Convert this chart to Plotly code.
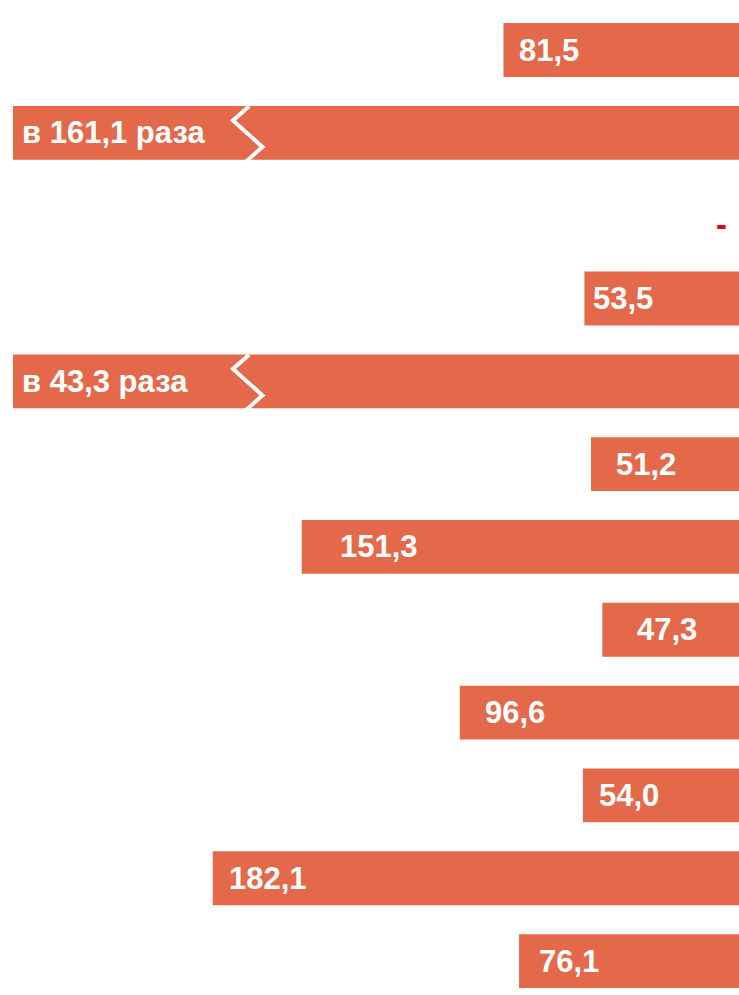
import plotly.graph_objects as go

# ---- data ----
rows = ["r1", "r2", "r3", "r4", "r5", "r6", "r7", "r8", "r9", "r10", "r11", "r12"]
values = [81.5, None, None, 53.5, None, 51.2, 151.3, 47.3, 96.6, 54.0, 182.1, 76.1]
times = [None, 161.1, None, None, 43.3, None, None, None, None, None, None, None]
missing = [False, False, True, False, False, False, False, False, False, False, False, False]

# ---- style ----
BAR = "#E4694A"
DASH_RED = "#E2001A"
FONT = "Liberation Sans, Arial, sans-serif"
CAP = 251.2          # length drawn for "broken" (times) bars
X_MAX = 255.7        # axis extent (reversed)
label_pad = [16, 9, 0, 9, 9, 25, 38, 35, 25, 16, 16, 20]

def fmt(v):
    return f"{v:.1f}".replace(".", ",")

bar_x, bar_y = [], []
for r, v, t, m in zip(rows, values, times, missing):
    if m:
        continue
    bar_y.append(r)
    bar_x.append(v if v is not None else CAP)

fig = go.Figure()
fig.add_trace(go.Bar(
    x=bar_x, y=bar_y, orientation="h",
    marker=dict(color=BAR, line=dict(width=0)),
    width=0.65, hoverinfo="skip",
))

annotations = []
shapes = []
for i, (r, v, t, m) in enumerate(zip(rows, values, times, missing)):
    if m:
        annotations.append(dict(
            x=0, y=r, xref="x", yref="y", text="<b>-</b>", showarrow=False,
            xanchor="right", xshift=-10, yshift=-9,
            font=dict(family=FONT, size=33, color=DASH_RED)))
        continue
    if v is not None:
        txt, xpos = fmt(v), v
    else:
        txt, xpos = f"в {fmt(t)} раза", CAP
        # break mark
        xs = [169.5, 175.1, 164.9, 171.0]
        dys = [-0.32, -0.15, 0.17, 0.36]
        path = "M " + " L ".join(f"{x},{i + dy}" for x, dy in zip(xs, dys))
        shapes.append(dict(type="path", path=path, xref="x", yref="y",
                           line=dict(color="white", width=4)))
    annotations.append(dict(
        x=xpos, y=r, xref="x", yref="y", text=f"<b>{txt}</b>", showarrow=False,
        xanchor="left", xshift=label_pad[i] - 2, yshift=0,
        font=dict(family=FONT, size=31, color="white")))

fig.update_layout(
    width=739, height=995,
    margin=dict(l=0, r=0, t=0, b=0),
    paper_bgcolor="white", plot_bgcolor="white",
    showlegend=False,
    xaxis=dict(range=[X_MAX, 0], visible=False, fixedrange=True),
    yaxis=dict(range=[11.41, -0.604], visible=False, categoryorder="array",
               categoryarray=rows, type="category", fixedrange=True),
    annotations=annotations, shapes=shapes,
    bargap=0.35,
)

fig.write_html(
    "out.html",
    config={"displayModeBar": False},
    post_script="document.body.style.margin='0';document.body.style.overflow='hidden';",
)
